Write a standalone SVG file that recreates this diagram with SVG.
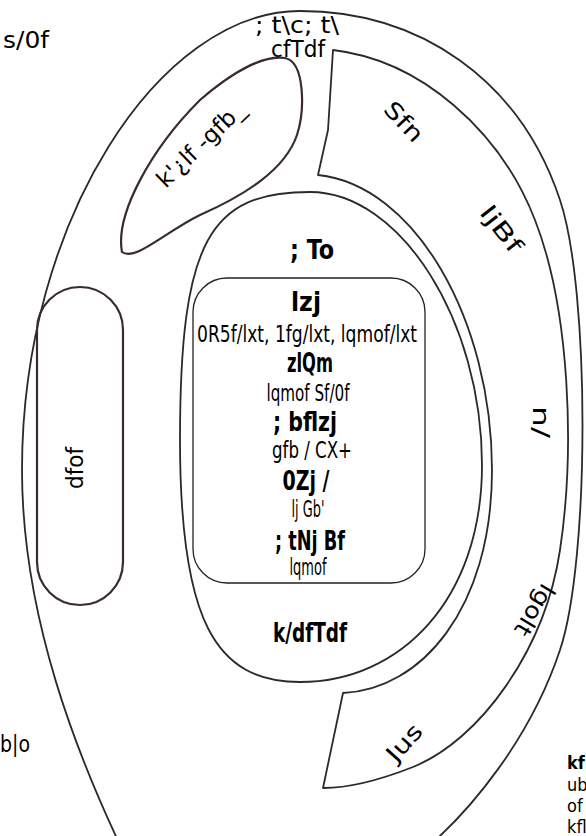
<svg xmlns="http://www.w3.org/2000/svg" width="586" height="836" viewBox="0 0 586 836">
<style>
.ln{fill:none;stroke:#2a2a2a;stroke-width:1.8;stroke-linejoin:round}
.bl{fill:none;stroke:#3a2a32;stroke-width:2.2}
.box{fill:#fff;stroke:#222;stroke-width:1.3}
text{font-family:"Liberation Sans Narrow","DejaVu Sans","Liberation Sans",sans-serif;font-stretch:condensed;fill:#000}
.r{font-size:23px}
.b{font-size:26px;font-weight:bold}
.m{text-anchor:middle}
.s{font-size:18px}
</style>
<rect width="586" height="836" fill="#fff"/>
<g id="outer">
<path class="ln" d="M300,11 C420,11 520,80 560,200 C590,290 590,560 560,650 C530,740 470,810 430,845 L120,845 C80,760 22,620 22,470 C22,220 160,11 300,11"/>
<text class="r m" x="297" y="33" font-size="22" textLength="84" lengthAdjust="spacingAndGlyphs">; t\c; t\</text>
<text class="r m" x="298" y="57" font-size="21" textLength="54" lengthAdjust="spacingAndGlyphs">cfTdf</text>
</g>
<g id="band">
<path class="ln" d="M333,50 L328,130 L318,175 C415,185 492,320 492,470 C492,610 420,690 343,693 L323,788 C350,788 380,780 413,767 C480,740 545,650 560,550 C575,450 570,310 535,220 C500,130 420,60 333,50 Z"/>
<text class="r m" transform="translate(398,127) rotate(47)" textLength="46" lengthAdjust="spacingAndGlyphs">Sfn</text>
<text class="r m" transform="translate(495,234) rotate(52)" textLength="54" lengthAdjust="spacingAndGlyphs">ljBf</text>
<text class="r m" transform="translate(533,422) rotate(90)" textLength="32" lengthAdjust="spacingAndGlyphs">n/</text>
<text class="r m" transform="translate(528,606) rotate(121)" textLength="56" lengthAdjust="spacingAndGlyphs">lgolt</text>
<text class="r m" transform="translate(410,748) rotate(-48)" textLength="42" lengthAdjust="spacingAndGlyphs">Jus</text>
</g>
<g id="blob">
<path class="bl" d="M122,252 C115,215 150,150 200,100 C235,70 265,55 285,58 C305,62 305,110 297,135 C285,170 245,195 200,215 C165,232 135,262 122,252 Z"/>
<text class="r m" transform="translate(206,150) rotate(-44)" textLength="112" lengthAdjust="spacingAndGlyphs">k'¿lf -gfb_</text>
</g>
<g id="pill">
<rect class="bl" x="37" y="287" width="86" height="318" rx="43"/>
<text class="r m" transform="translate(83,468) rotate(-90)" textLength="42" lengthAdjust="spacingAndGlyphs">dfof</text>
</g>
<g id="inner">
<path class="ln" d="M310,192 C400,192 482,320 482,465 C482,600 400,682 300,682 C215,682 180,620 180,440 C180,240 210,192 310,192 Z"/>
<text class="b m" x="312" y="259" textLength="44" lengthAdjust="spacingAndGlyphs">; To</text>
<text class="b m" x="310" y="642" textLength="74" lengthAdjust="spacingAndGlyphs">k/dfTdf</text>
</g>
<g id="center">
<rect class="box" x="193" y="278" width="232" height="305" rx="34"/>
<text class="b m" x="306" y="311" textLength="30" lengthAdjust="spacingAndGlyphs">lzj</text>
<text class="r m" x="307" y="342" textLength="220" lengthAdjust="spacingAndGlyphs">0R5f/lxt, 1fg/lxt, lqmof/lxt</text>
<text class="b m" x="310" y="372" textLength="46" lengthAdjust="spacingAndGlyphs">zlQm</text>
<text class="r m" x="308" y="401" textLength="83" lengthAdjust="spacingAndGlyphs">lqmof Sf/0f</text>
<text class="b m" x="305" y="431" textLength="64" lengthAdjust="spacingAndGlyphs">; bflzj</text>
<text class="r m" x="312" y="458" textLength="80" lengthAdjust="spacingAndGlyphs">gfb / CX+</text>
<text class="b m" x="306" y="490" textLength="47" lengthAdjust="spacingAndGlyphs">0Zj /</text>
<text class="r m" x="308" y="517" textLength="33" lengthAdjust="spacingAndGlyphs">lj Gb'</text>
<text class="b m" x="310" y="550" textLength="70" lengthAdjust="spacingAndGlyphs">; tNj Bf</text>
<text class="r m" x="308" y="575" textLength="37" lengthAdjust="spacingAndGlyphs">lqmof</text>
</g>
<g id="labels">
<text class="r" x="3" y="48" font-size="24" textLength="46" lengthAdjust="spacingAndGlyphs">s/0f</text>
<text class="r" x="-12" y="752" textLength="42" lengthAdjust="spacingAndGlyphs">Sb|o</text>
<text class="s" x="567" y="769" font-weight="bold">kf</text>
<text class="s" x="567" y="791">ub</text>
<text class="s" x="567" y="812">of</text>
<text class="s" x="567" y="833">kfl</text>
</g>
</svg>
